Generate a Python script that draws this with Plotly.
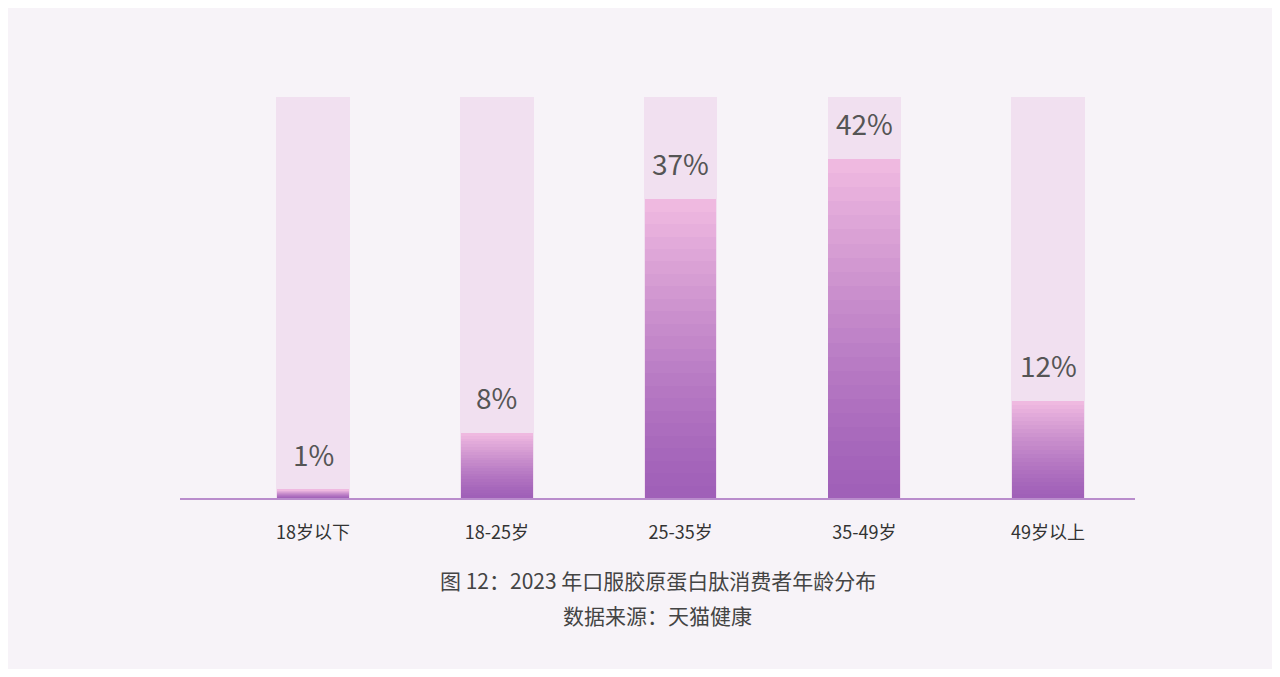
import plotly.graph_objects as go

categories = ["18岁以下", "18-25岁", "25-35岁", "35-49岁", "49岁以上"]
values = [1, 8, 37, 42, 12]
labels = ["1%", "8%", "37%", "42%", "12%"]
bg_level = 49.6
title1 = "图 12：2023 年口服胶原蛋白肽消费者年龄分布"
title2 = "数据来源：天猫健康"

top_c = (242, 188, 226)
bot_c = (160, 96, 184)
N = 24

fig = go.Figure()
fig.add_bar(x=categories, y=[bg_level]*5, width=0.4,
            marker=dict(color="rgba(240,222,238,0.9)", line=dict(width=0)),
            hoverinfo="skip", showlegend=False)
for i in range(N):
    t = (i + 0.5) / N
    c = tuple(int(bot_c[k] + (top_c[k] - bot_c[k]) * t**1.3) for k in range(3))
    fig.add_bar(x=categories, y=[v / N for v in values], base=[v * i / N for v in values],
                width=0.39, marker=dict(color="rgb(%d,%d,%d)" % c, line=dict(width=0)),
                hoverinfo="skip", showlegend=False)

for c, v, l in zip(categories, values, labels):
    fig.add_annotation(x=c, y=v, text=l, showarrow=False, yanchor="bottom", yshift=14,
                       font=dict(size=28, color="#555"))

fig.add_annotation(x=0.5, y=-0.236, xref="paper", yref="paper", text=title1, showarrow=False,
                   font=dict(size=21, color="#444"))
fig.add_annotation(x=0.5, y=-0.319, xref="paper", yref="paper", text=title2, showarrow=False,
                   font=dict(size=21, color="#444"))

fig.update_layout(
    width=1264, height=661, barmode="overlay", bargap=0,
    margin=dict(l=172, r=137, t=70, b=171),
    paper_bgcolor="#f7f3f8", plot_bgcolor="rgba(0,0,0,0)",
    font=dict(family="Noto Sans CJK SC", color="#333"),
    xaxis=dict(range=[-0.724, 4.473], showgrid=False, zeroline=False,
               showline=True, linecolor="#b98ccc", linewidth=1.5,
               tickfont=dict(size=18, color="#333"), ticks="", ticklabelstandoff=18),
    yaxis=dict(range=[0, 52], visible=False),
)
fig.write_html("out.html")
